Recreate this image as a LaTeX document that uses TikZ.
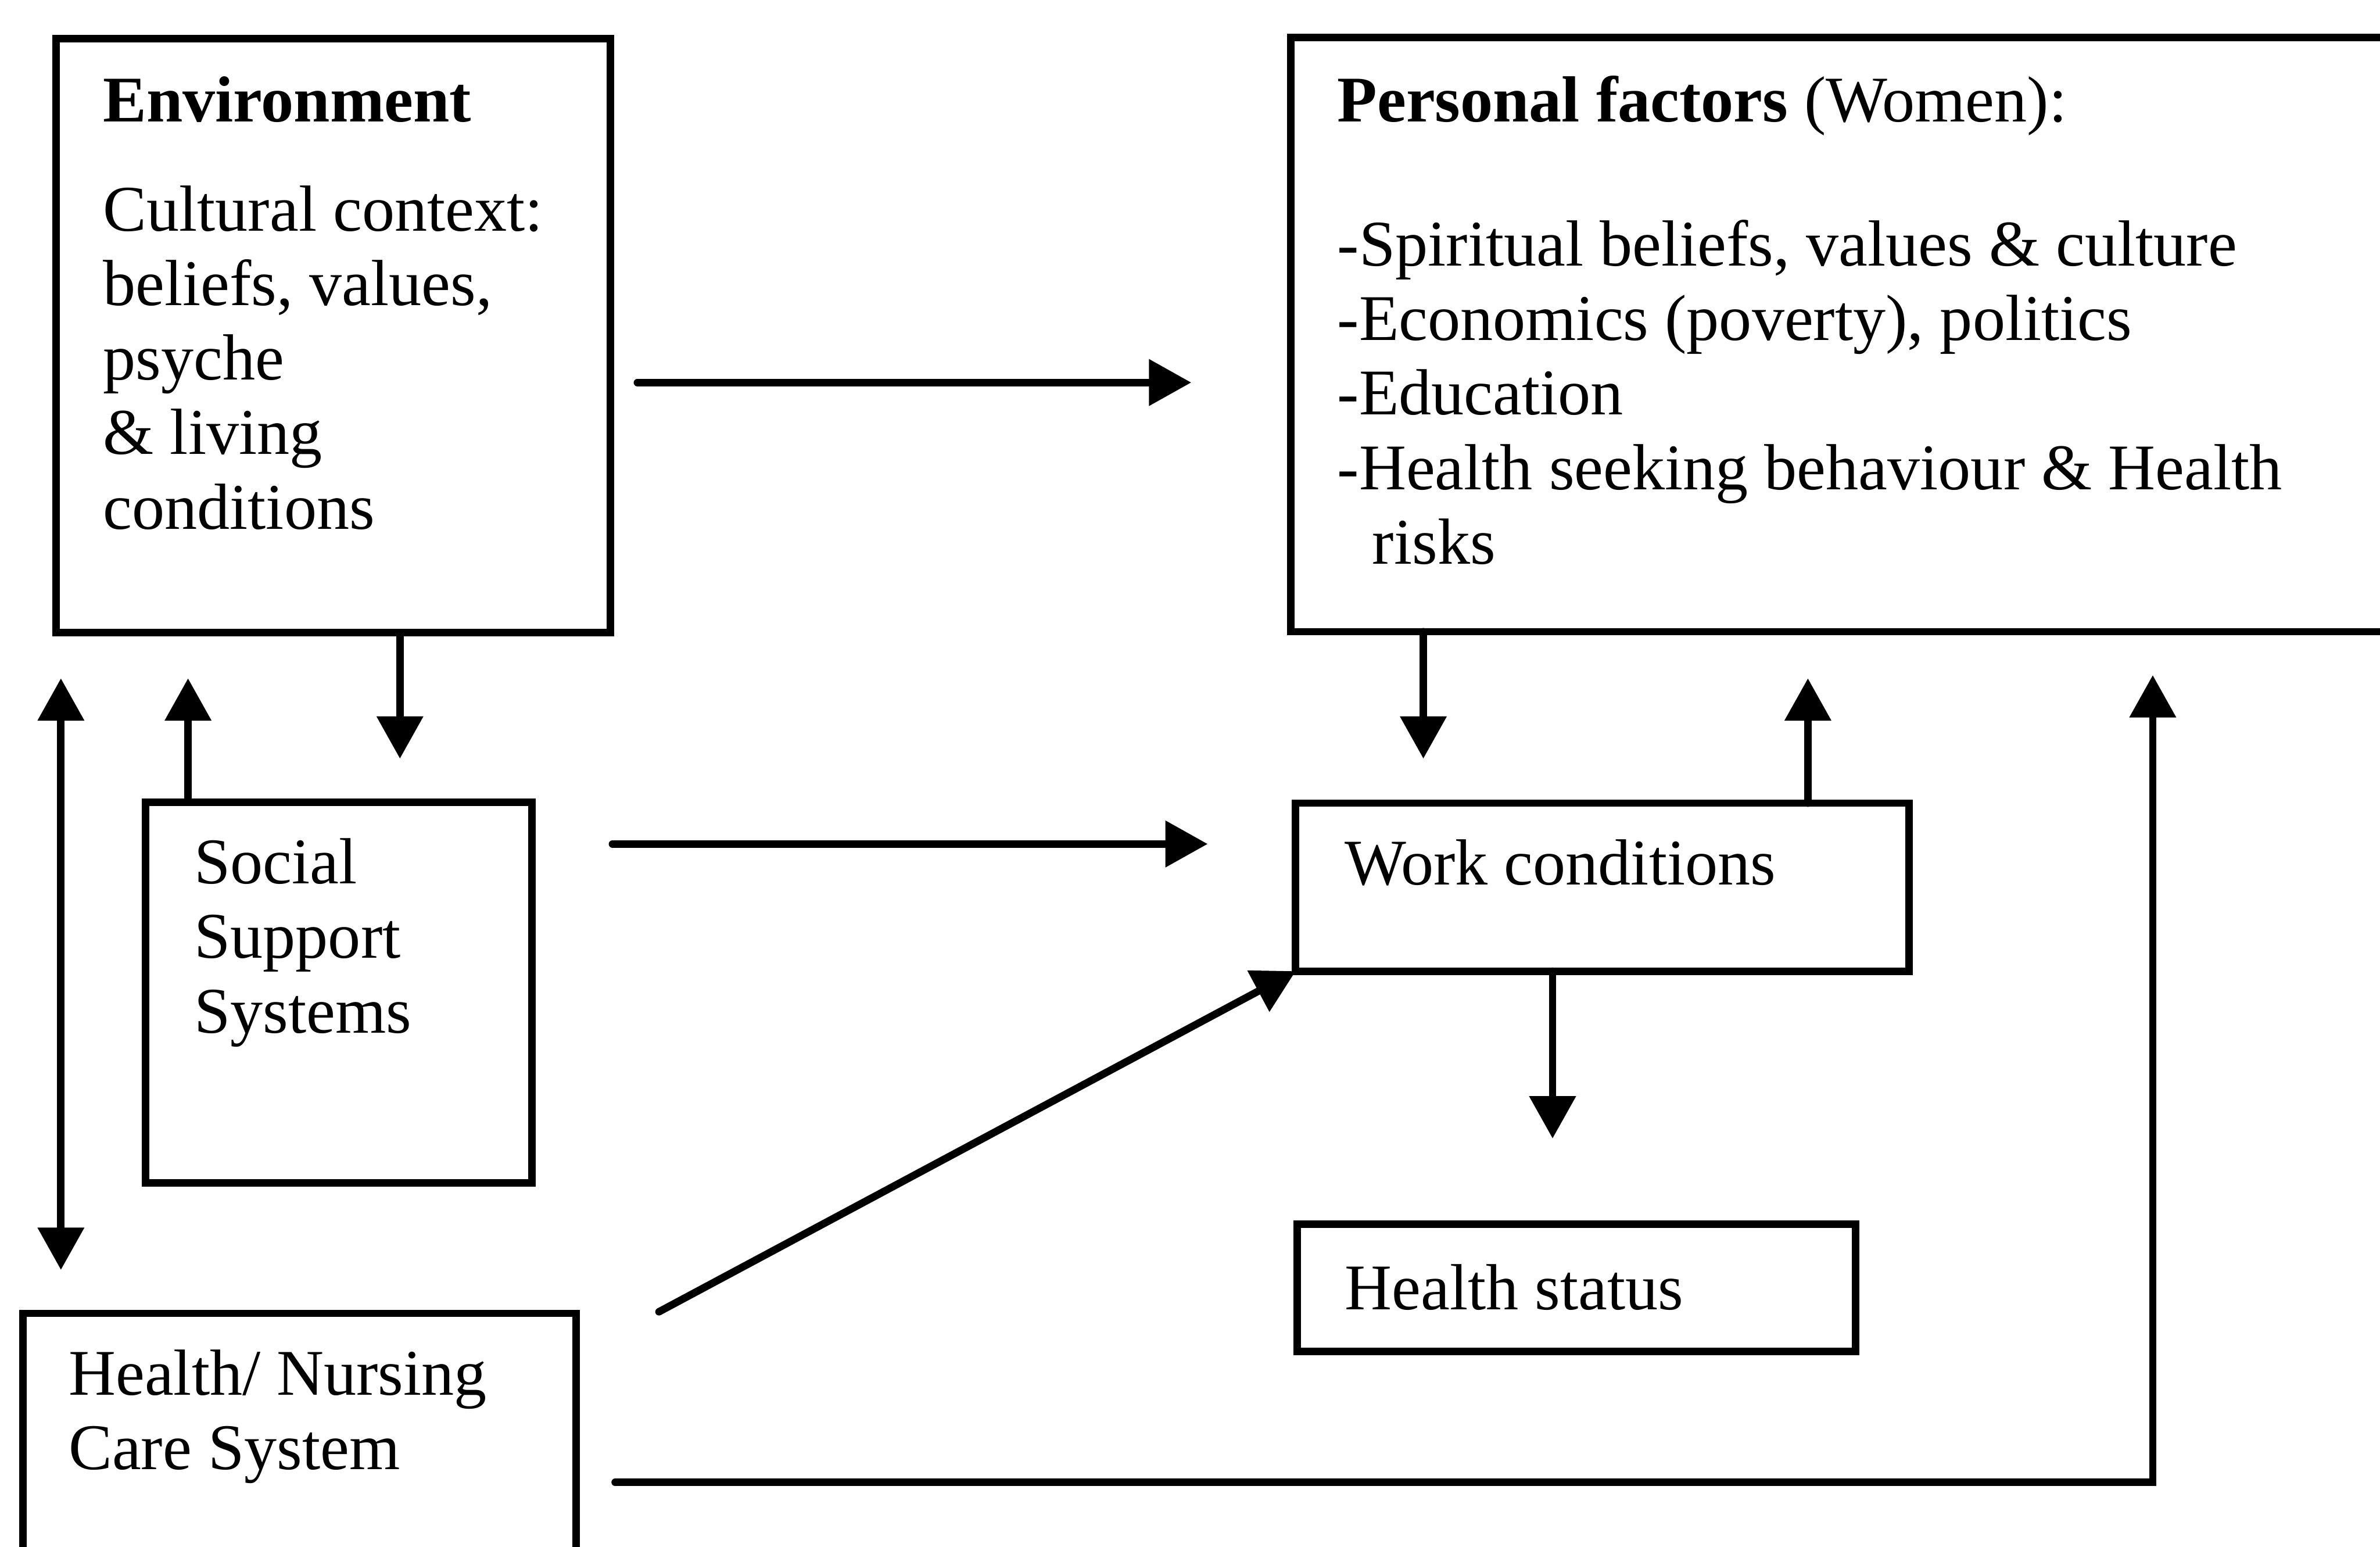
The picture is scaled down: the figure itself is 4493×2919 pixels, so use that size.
\documentclass[tikz,border=0pt]{standalone}
\usepackage{fontspec}
\setmainfont{Liberation Serif}
\usetikzlibrary{arrows.meta}
\begin{document}
\begin{tikzpicture}[x=0.04mm,y=-0.04mm,line cap=round,
  >={Triangle[length=3.2mm,width=3.4mm]},
  box/.style={draw,line width=1.6pt,rectangle,anchor=north west,inner sep=0pt,outer sep=0pt},
  txt/.style={anchor=north west,inner sep=0pt,align=left,font=\fontsize{14}{16}\selectfont},
  arr/.style={line width=1.6pt,->}]
  \useasboundingbox (0,0) rectangle (4493,2919);
  \node[box,minimum width=41.84mm,minimum height=44.84mm] (env) at (106,73) {};
  \node[box,minimum width=88mm,minimum height=44.84mm] (pers) at (2437,71) {};
  \node[box,minimum width=29.16mm,minimum height=28.76mm] (social) at (275,1514) {};
  \node[box,minimum width=46.32mm,minimum height=12.68mm] (work) at (2446,1516) {};
  \node[box,minimum width=42.16mm,minimum height=9.6mm] (hstat) at (2449,2311) {};
  \node[box,minimum width=41.76mm,minimum height=24mm] (hn) at (43,2479) {};
  \node[txt] (envtxt) at (193,143) {\textbf{Environment}\\[2.6mm]
    Cultural context:\\ beliefs, values,\\ psyche\\ \& living\\ conditions};
  \node[txt] (perstxt) at (2523,141) {\textbf{Personal factors} (Women):\\[15pt]
    -Spiritual beliefs, values \& culture\\ -Economics (poverty), politics\\
    -Education\\ -Health seeking behaviour \& Health\\ \hspace*{2.64mm}risks};
  \node[txt] (socialtxt) at (365,1581) {Social\\ Support\\ Systems};
  \node[txt] (worktxt) at (2537,1583) {Work conditions};
  \node[txt] (hstattxt) at (2537,2385) {Health status};
  \node[txt] (hntxt) at (128,2546) {Health/ Nursing\\ Care System};
  \coordinate (hnout) at (1244,2476);
  \draw[arr,shorten <=2.04mm,shorten >=7.52mm] (env.east |- 0,722) -- (pers.west |- 0,722);
  \draw[arr,shorten <=6.08mm,shorten >=6.64mm] (social.east |- 0,1593) -- (work.west |- 0,1593);
  \draw[arr,shorten >=3.28mm] (env.south -| 755,0) -- (social.north -| 755,0);
  \draw[arr,shorten >=3.44mm] (social.north -| 355,0) -- (env.south -| 355,0);
  \draw[arr,<->,shorten <=3.44mm,shorten >=3.28mm] (env.south -| 115,0) -- (hn.north -| 115,0);
  \draw[arr,shorten >=3.36mm] (pers.south -| 2687,0) -- (work.north -| 2687,0);
  \draw[arr,shorten >=3.52mm] (work.north -| 3413,0) -- (pers.south -| 3413,0);
  \draw[arr,shorten >=6.48mm] (work.south -| 2931,0) -- (hstat.north -| 2931,0);
  \draw[arr] (hnout) -- (work.south west);
  \draw[arr,shorten <=2.96mm,shorten >=3.28mm] (hn.east |- 0,2798) -| (pers.south -| 4064,0);
\end{tikzpicture}
\end{document}
